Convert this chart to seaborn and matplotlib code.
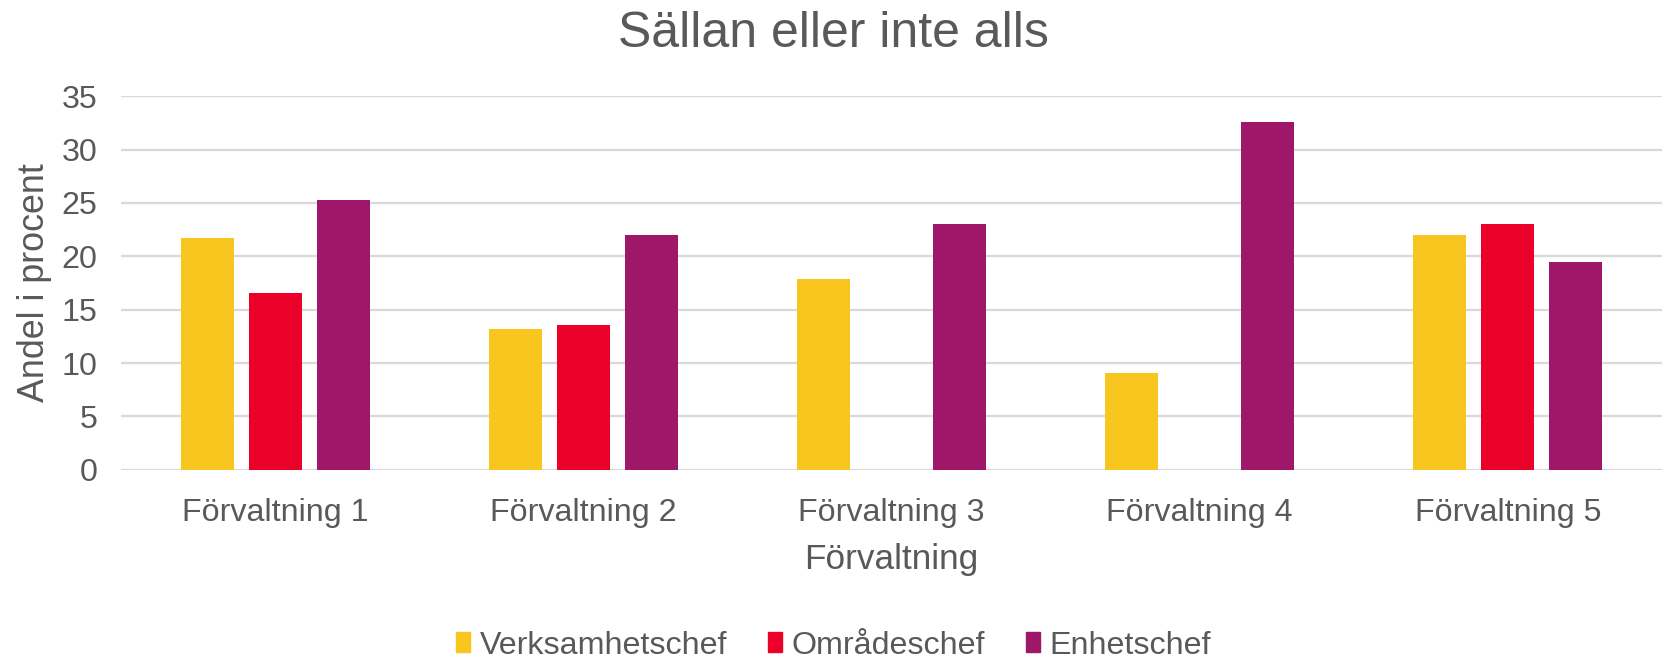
import pandas as pd
import seaborn as sns
import matplotlib
matplotlib.use("Agg")
import matplotlib.pyplot as plt

# Data
forvaltningar = ["Förvaltning 1", "Förvaltning 2", "Förvaltning 3", "Förvaltning 4", "Förvaltning 5"]
verksamhetschef = [21.7, 13.2, 17.9, 9.1, 22.0]
omradeschef = [16.6, 13.6, 0.0, 0.0, 23.0]
enhetschef = [25.3, 22.0, 23.0, 32.6, 19.5]
roller = ["Verksamhetschef", "Områdeschef", "Enhetschef"]
farger = ["#F9C61F", "#EB0029", "#9E1768"]

df = pd.DataFrame({
    "Förvaltning": forvaltningar * 3,
    "Roll": [roller[0]] * 5 + [roller[1]] * 5 + [roller[2]] * 5,
    "Andel": verksamhetschef + omradeschef + enhetschef,
})

sns.set_style("white")
plt.rcParams["font.family"] = ["Liberation Sans", "DejaVu Sans"]
textfarg = "#595959"

fig = plt.figure(figsize=(16.67, 6.59), dpi=100)
ax = fig.add_axes([0.0726, 0.287, 0.9244, 0.567])

sns.barplot(data=df, x="Förvaltning", y="Andel", hue="Roll", order=forvaltningar,
            hue_order=roller, palette=farger, saturation=1, width=0.662, gap=0.22,
            linewidth=0, errorbar=None, ax=ax, legend=False)

ax.set_ylim(0, 35)
ax.set_yticks(range(0, 36, 5))
ax.set_xlim(-0.5, 4.5)
ax.yaxis.grid(True, color="#D9D9D9", linewidth=1.6)
ax.set_axisbelow(True)
for s in ax.spines.values():
    s.set_visible(False)

ax.tick_params(axis="y", length=0, pad=17, labelsize=23.2, labelcolor=textfarg)
ax.tick_params(axis="x", length=0, pad=20, labelsize=23.2, labelcolor=textfarg)

ax.set_xlabel("Förvaltning", fontsize=25.3, color=textfarg, labelpad=11)
ax.set_ylabel("Andel i procent", fontsize=25.8, color=textfarg)
ax.yaxis.set_label_coords(-0.045, 0.5)
fig.suptitle("Sällan eller inte alls", fontsize=36, color=textfarg, y=0.948, va="center")

handles = [plt.Rectangle((0, 0), 1, 1, color=c) for c in farger]
fig.legend(handles, roller, loc="center", bbox_to_anchor=(0.5, 0.02), ncol=3,
           frameon=False, fontsize=23.2, labelcolor=textfarg,
           handlelength=0.42, handleheight=0.58, handletextpad=0.3,
           columnspacing=1.28)

fig.savefig("out.png", dpi=100)
